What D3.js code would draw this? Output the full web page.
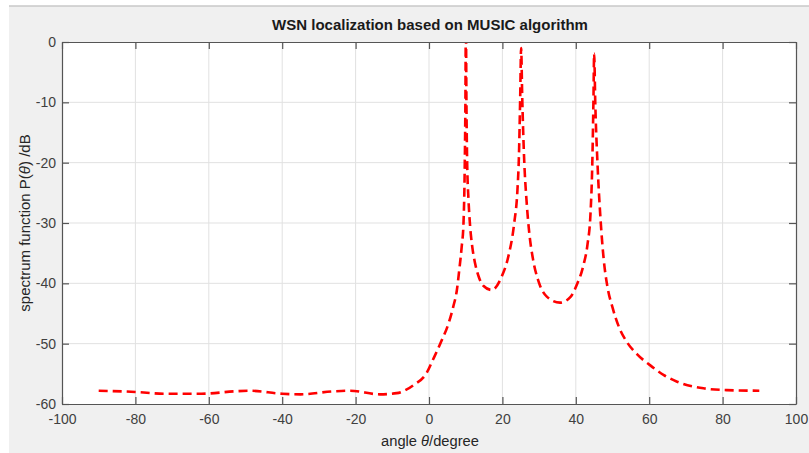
<!DOCTYPE html>
<html>
<head>
<meta charset="utf-8">
<script src="https://cdn.jsdelivr.net/npm/d3@7"></script>
<style>
  body { margin: 0; background: #fff; }
  text { font-family: "Liberation Sans", Arial, Helvetica, sans-serif; }
</style>
</head>
<body>
<svg id="chart" width="809" height="453"></svg>
<script>
// values
const angles = [-90, -80, -72, -62, -53, -49, -40, -35, -26, -21.5, -13.4, -8.8, -4.3, -0.6, 1.2, 3.5, 5.3, 6.6, 7.6, 8.3, 8.9, 9.4, 9.75, 9.92, 10.05,
    10.2, 10.4, 10.75, 11.2, 11.8, 12.6, 13.6, 14.8, 17.1, 19.8, 21.6, 23.2, 24.1, 24.5, 24.85, 25.1,
    25.4, 25.9, 26.6, 27.3, 28.4, 29.8, 32.1, 35.7, 38.5, 40.3, 42.0, 43.2, 44.0, 44.5, 44.8, 45.0,
    45.3, 45.9, 46.7, 47.6, 48.6, 50.0, 51.8, 54.0, 56.6, 60.3, 64, 67.6, 74.8, 81.2, 90];
const spectrum = [-57.8, -58.0, -58.3, -58.3, -57.9, -57.8, -58.3, -58.4, -57.9, -57.8, -58.4, -58.2, -56.9, -54.8, -52.5, -49.4, -46.7, -43.9, -41.1, -37.5, -34, -30, -20, -10, 4,
    -10, -20, -26, -30.5, -34, -36.8, -39, -40.4, -41.1, -38.9, -35.6, -30.1, -24.5, -19, -9.1, -1,
    -9.1, -19, -26.5, -31.5, -36.2, -39.6, -42.2, -43.2, -42.3, -40.2, -37.2, -33.5, -28.5, -20, -10, -1.9,
    -10, -20, -29, -36, -40.5, -44, -47.3, -49.8, -51.7, -53.6, -55.2, -56.3, -57.4, -57.7, -57.8];
const xTicks = [-100, -80, -60, -40, -20, 0, 20, 40, 60, 80, 100];
const yTicks = [0, -10, -20, -30, -40, -50, -60];

const svg = d3.select("#chart");
const margin = {left: 62, top: 42, right: 796, bottom: 404};

// figure background
svg.append("rect").attr("x", 9).attr("y", 6).attr("width", 800).attr("height", 447).attr("fill", "#f0f0f0");
svg.append("line").attr("x1", 9).attr("x2", 809).attr("y1", 6).attr("y2", 6).attr("stroke", "#c8c8c8").attr("stroke-width", 1.5);

const x = d3.scaleLinear().domain([-100, 100]).range([margin.left, margin.right]);
const y = d3.scaleLinear().domain([-60, 0]).range([margin.bottom, margin.top]);

svg.append("rect")
    .attr("x", margin.left).attr("y", margin.top)
    .attr("width", margin.right - margin.left).attr("height", margin.bottom - margin.top)
    .attr("fill", "#fff");

// grid
svg.append("g").selectAll("line").data(xTicks.slice(1, -1)).join("line")
    .attr("x1", d => x(d)).attr("x2", d => x(d))
    .attr("y1", margin.top).attr("y2", margin.bottom)
    .attr("stroke", "#e1e1e1");
svg.append("g").selectAll("line").data(yTicks.slice(1, -1)).join("line")
    .attr("y1", d => y(d)).attr("y2", d => y(d))
    .attr("x1", margin.left).attr("x2", margin.right)
    .attr("stroke", "#e1e1e1");

// curve
svg.append("clipPath").attr("id", "clip").append("rect")
    .attr("x", margin.left).attr("y", margin.top)
    .attr("width", margin.right - margin.left).attr("height", margin.bottom - margin.top);

const line = d3.line()
    .x((d, i) => x(angles[i]))
    .y(d => y(d))
    .curve(d3.curveMonotoneX);

svg.append("path")
    .datum(spectrum)
    .attr("clip-path", "url(#clip)")
    .attr("d", line)
    .attr("fill", "none")
    .attr("stroke", "#ff0000")
    .attr("stroke-width", 2.6)
    .attr("stroke-dasharray", "9,5");

// axes (ticks inward, box on all sides)
const tickColor = "#555";
const fmt = d => String(d);
const axBottom = d3.axisBottom(x).tickValues(xTicks).tickSizeInner(-7).tickSizeOuter(0).tickPadding(10).tickFormat(fmt);
const axTop = d3.axisTop(x).tickValues(xTicks).tickSizeInner(-7).tickSizeOuter(0).tickFormat("");
const axLeft = d3.axisLeft(y).tickValues(yTicks).tickSizeInner(-7).tickSizeOuter(0).tickPadding(6).tickFormat(fmt);
const axRight = d3.axisRight(y).tickValues(yTicks).tickSizeInner(-7).tickSizeOuter(0).tickFormat("");

function style(g) {
    g.select(".domain").attr("stroke", tickColor).attr("stroke-width", 1.2);
    g.selectAll(".tick line").attr("stroke", tickColor).attr("stroke-width", 1.2);
    g.selectAll(".tick text").attr("fill", "#404040").style("font-size", "14px");
}

svg.append("g").attr("transform", `translate(0,${margin.bottom})`).call(axBottom).call(style);
svg.append("g").attr("transform", `translate(0,${margin.top})`).call(axTop).call(style);
svg.append("g").attr("transform", `translate(${margin.left},0)`).call(axLeft).call(style);
svg.append("g").attr("transform", `translate(${margin.right},0)`).call(axRight).call(style);

// title and labels
svg.append("text")
    .attr("x", 430).attr("y", 30)
    .attr("text-anchor", "middle")
    .style("font-size", "15px").style("font-weight", "bold")
    .attr("fill", "#1a1a1a")
    .text("WSN localization based on MUSIC algorithm");

const xl = svg.append("text")
    .attr("x", 430).attr("y", 446)
    .attr("text-anchor", "middle")
    .style("font-size", "14.7px")
    .attr("fill", "#262626");
xl.append("tspan").text("angle ");
xl.append("tspan").style("font-style", "italic").text("θ");
xl.append("tspan").text("/degree");

const yl = svg.append("text")
    .attr("transform", "translate(30,223) rotate(-90)")
    .attr("text-anchor", "middle")
    .style("font-size", "15px")
    .attr("fill", "#262626");
yl.append("tspan").text("spectrum function P(");
yl.append("tspan").style("font-style", "italic").text("θ");
yl.append("tspan").text(") /dB");
</script>
</body>
</html>
